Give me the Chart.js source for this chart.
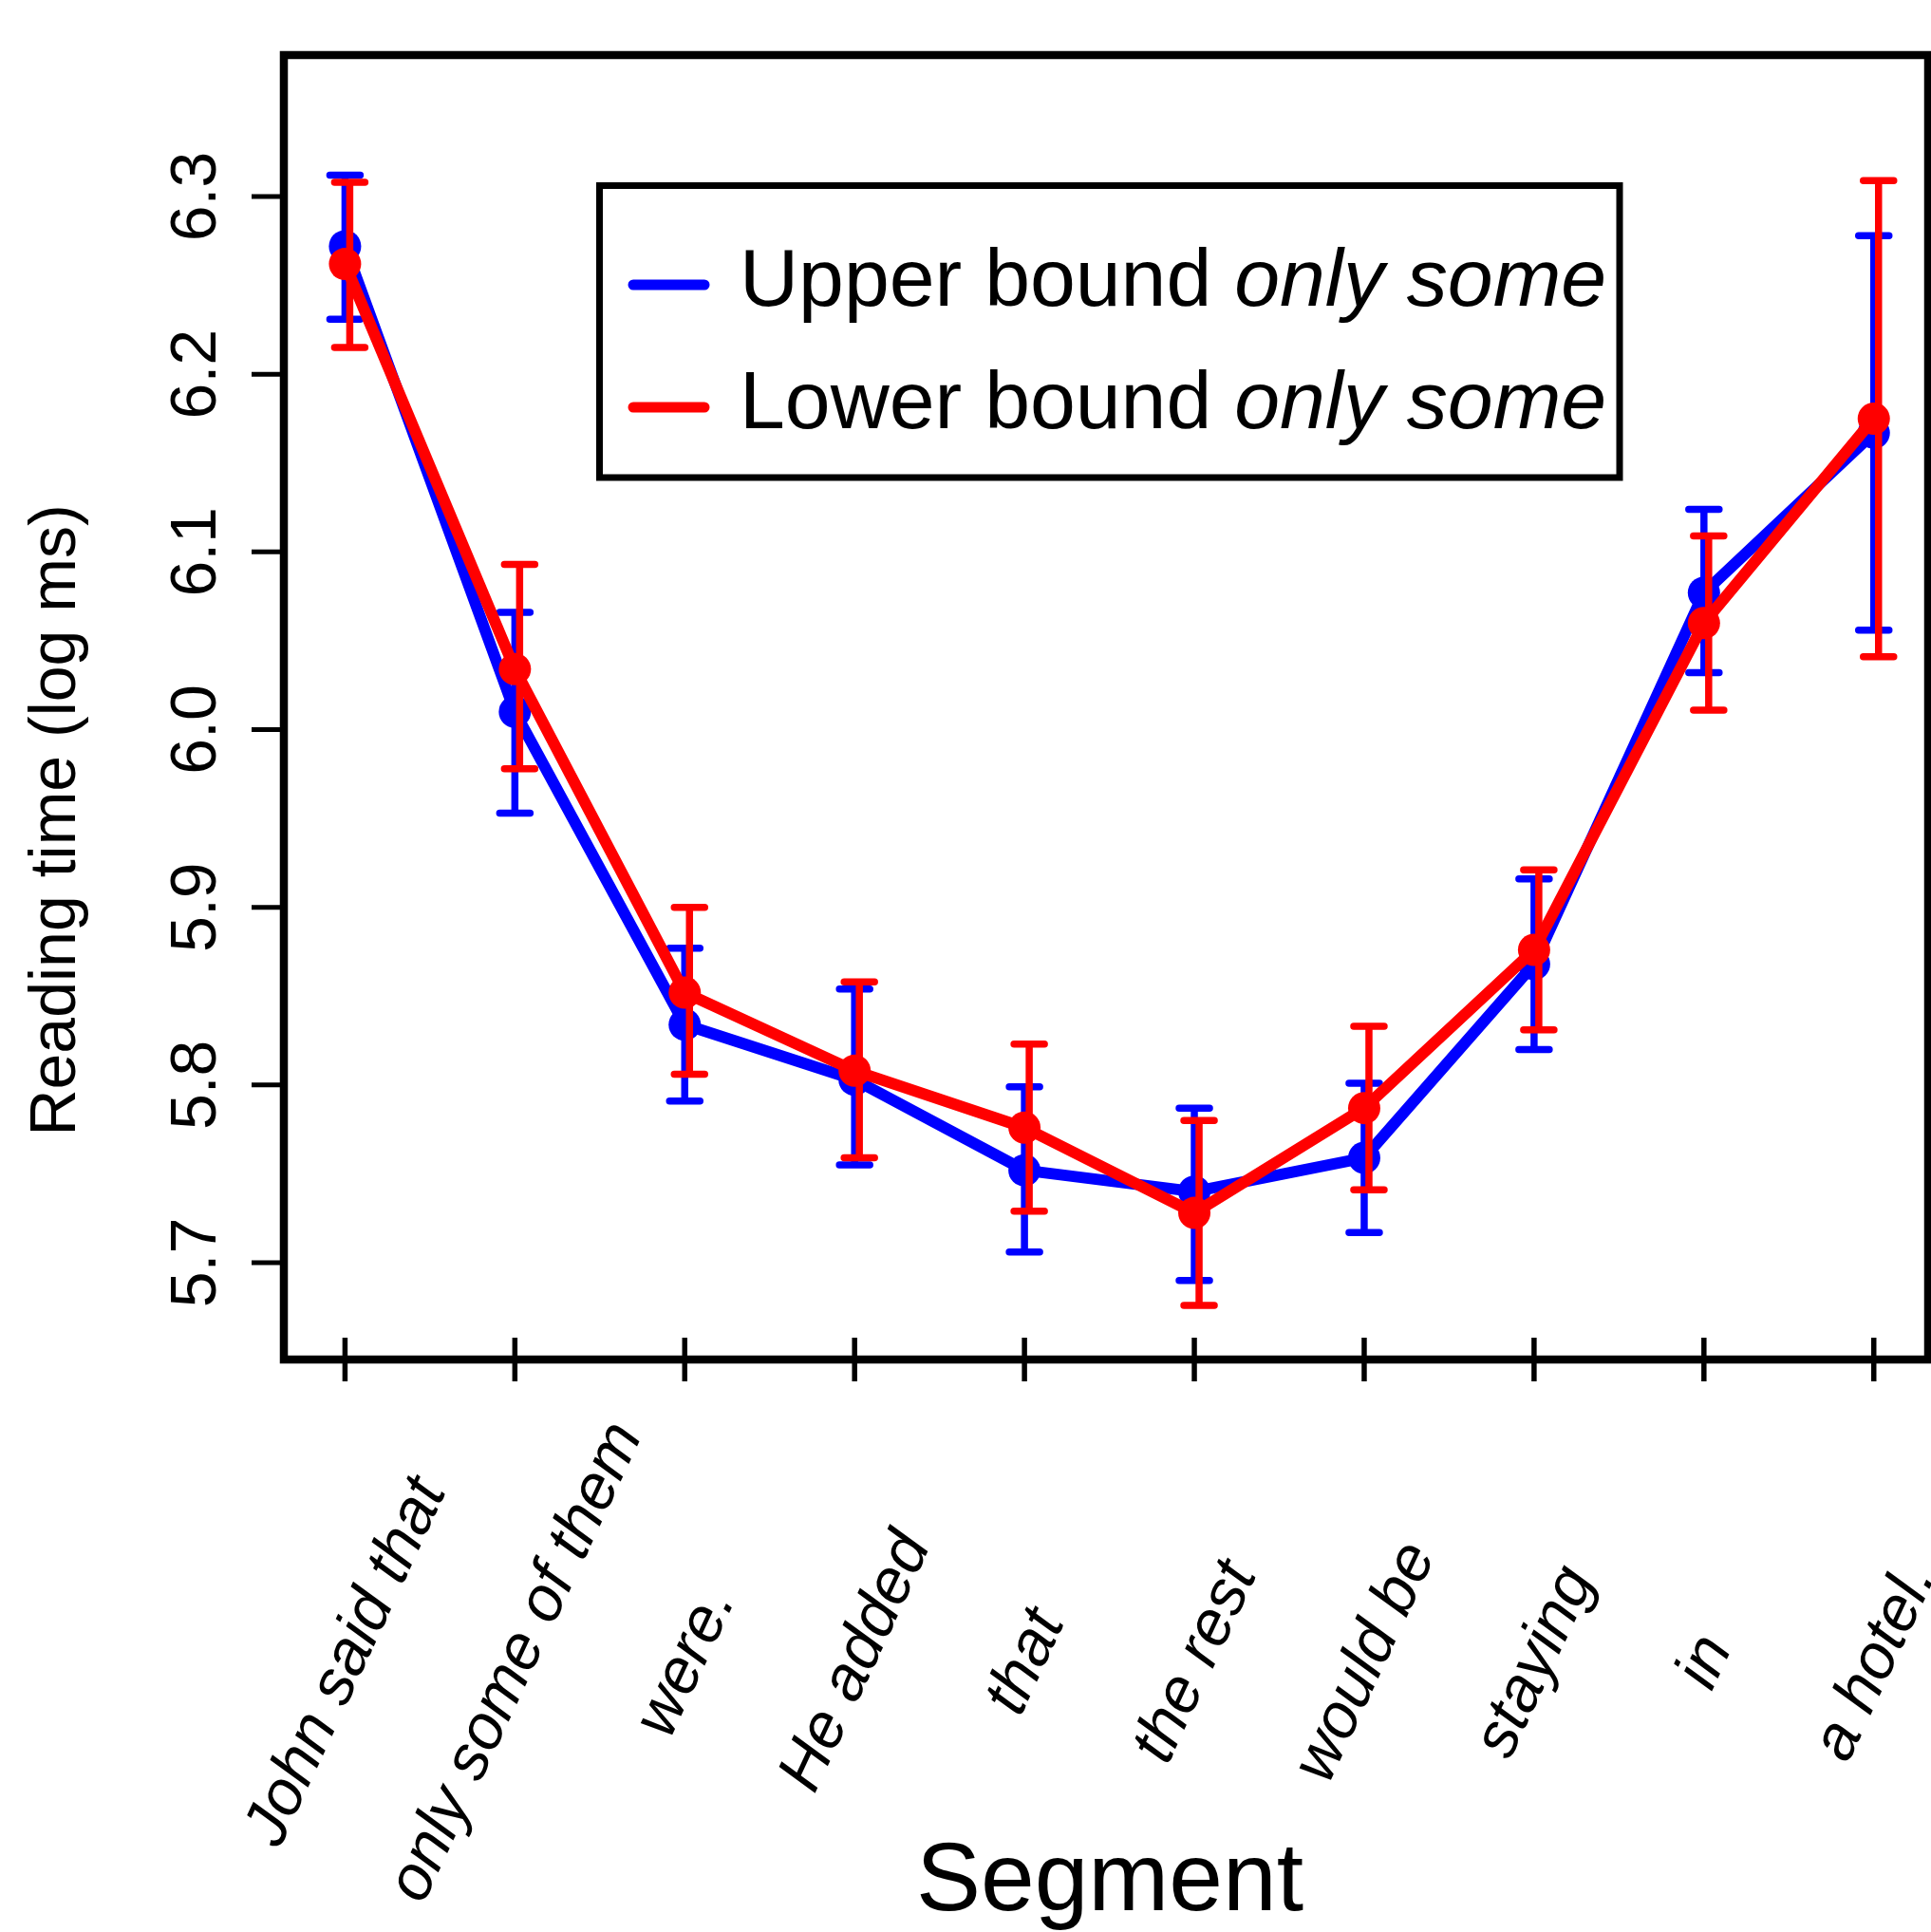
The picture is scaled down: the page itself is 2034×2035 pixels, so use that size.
<!DOCTYPE html>
<html>
<head>
<meta charset="utf-8">
<script src="https://cdn.jsdelivr.net/npm/chart.js@4.4.1/dist/chart.umd.min.js"></script>
<style>
html, body { margin: 0; padding: 0; background: #fff; overflow: hidden; }
canvas { display: block; }
</style>
</head>
<body>
<canvas id="lineChart" width="2034" height="2035"></canvas>
<script>
var segments = ['John said that', 'only some of them', 'were.', 'He added', 'that', 'the rest', 'would be', 'staying', 'in', 'a hotel.']
var yTicks = [5.7, 5.8, 5.9, 6.0, 6.1, 6.2, 6.3]

// Upper bound "only some" (blue)
var upperMean = [6.272, 6.010, 5.834, 5.803, 5.752, 5.740, 5.759, 5.868, 6.077, 6.167]
var upperHigh = [6.312, 6.066, 5.877, 5.854, 5.799, 5.787, 5.801, 5.916, 6.124, 6.278]
var upperLow = [6.231, 5.953, 5.791, 5.755, 5.706, 5.690, 5.717, 5.820, 6.032, 6.056]

// Lower bound "only some" (red)
var lowerMean = [6.262, 6.034, 5.852, 5.808, 5.776, 5.728, 5.787, 5.876, 6.060, 6.175]
var lowerHigh = [6.308, 6.093, 5.900, 5.858, 5.823, 5.780, 5.833, 5.921, 6.109, 6.309]
var lowerLow = [6.215, 5.978, 5.806, 5.759, 5.729, 5.676, 5.741, 5.831, 6.011, 6.041]

var FONT = '"Liberation Sans", Arial, Helvetica, sans-serif'

function toPoints(vals) {
    return vals.map(function (v, i) { return { x: i + 1, y: v } })
}

// error bars, drawn right after each dataset so red sits over blue
var errorBars = {
    id: 'errorBars',
    afterDatasetDraw: function (chart, args) {
        var ds = chart.data.datasets[args.index]
        var xs = chart.scales.x, ys = chart.scales.y
        var ctx = chart.ctx
        ctx.save()
        ctx.strokeStyle = ds.borderColor
        ctx.lineWidth = 7.5
        ctx.lineCap = 'round'
        for (var i = 0; i < ds.high.length; i++) {
            var px = xs.getPixelForValue(i + 1) + ds.barShift
            var top = ys.getPixelForValue(ds.high[i])
            var bot = ys.getPixelForValue(ds.low[i])
            ctx.beginPath()
            ctx.moveTo(px, top); ctx.lineTo(px, bot)
            ctx.moveTo(px - 16, top); ctx.lineTo(px + 16, top)
            ctx.moveTo(px - 16, bot); ctx.lineTo(px + 16, bot)
            ctx.stroke()
        }
        ctx.restore()
    }
}

// R style box, ticks, labels and legend
var axesFrame = {
    id: 'axesFrame',
    afterDraw: function (chart) {
        var ctx = chart.ctx, a = chart.chartArea
        var xs = chart.scales.x, ys = chart.scales.y
        ctx.save()
        ctx.strokeStyle = '#000'
        ctx.fillStyle = '#000'
        ctx.lineWidth = 8.5
        ctx.strokeRect(a.left, a.top, a.right - a.left, a.bottom - a.top)

        // y axis
        ctx.lineWidth = 5
        yTicks.forEach(function (v) {
            var py = ys.getPixelForValue(v)
            ctx.beginPath(); ctx.moveTo(a.left - 34, py); ctx.lineTo(a.left, py); ctx.stroke()
            ctx.save()
            ctx.translate(227, py)
            ctx.rotate(-Math.PI / 2)
            ctx.font = '68px ' + FONT
            ctx.textAlign = 'center'
            ctx.textBaseline = 'alphabetic'
            ctx.fillText(v.toFixed(1), 0, 0)
            ctx.restore()
        })

        // x axis
        ctx.lineWidth = 5.5
        segments.forEach(function (s, i) {
            var px = xs.getPixelForValue(i + 1)
            ctx.beginPath(); ctx.moveTo(px, a.bottom - 23); ctx.lineTo(px, a.bottom + 23); ctx.stroke()
            ctx.save()
            ctx.translate(px + 2, 1751)
            ctx.rotate(-65 * Math.PI / 180)
            ctx.font = 'italic 67px ' + FONT
            ctx.textAlign = 'center'
            ctx.textBaseline = 'middle'
            ctx.fillText(s, 0, 0)
            ctx.restore()
        })

        // axis titles
        ctx.save()
        ctx.translate(79, 864)
        ctx.rotate(-Math.PI / 2)
        ctx.font = '68px ' + FONT
        ctx.textAlign = 'center'
        ctx.fillText('Reading time (log ms)', 0, 0)
        ctx.restore()

        ctx.font = '102px ' + FONT
        ctx.textAlign = 'center'
        ctx.fillText('Segment', 1169, 2012)

        // legend
        ctx.lineWidth = 7
        ctx.strokeRect(631.5, 195.5, 1706 - 631.5, 503 - 195.5)
        var rows = [{ y: 300, color: '#0000ff', word: 'Upper bound ' }, { y: 429, color: '#ff0000', word: 'Lower bound ' }]
        rows.forEach(function (r) {
            ctx.strokeStyle = r.color
            ctx.lineWidth = 11
            ctx.lineCap = 'round'
            ctx.beginPath(); ctx.moveTo(667, r.y); ctx.lineTo(742, r.y); ctx.stroke()
            ctx.textAlign = 'left'
            ctx.textBaseline = 'alphabetic'
            ctx.font = '86px ' + FONT
            ctx.fillText(r.word, 779, r.y + 22)
            var w = ctx.measureText(r.word).width
            ctx.font = 'italic 86px ' + FONT
            ctx.fillText('only some', 779 + w, r.y + 22)
        })
        ctx.restore()
    }
}

var ctxMain = document.getElementById('lineChart').getContext('2d')

new Chart(ctxMain, {
    type: 'line',
    data: {
        datasets: [
            {
                label: 'Upper bound only some',
                data: toPoints(upperMean),
                high: upperHigh,
                low: upperLow,
                barShift: 0,
                order: 2,
                borderColor: '#0000ff',
                backgroundColor: '#0000ff',
                pointBackgroundColor: '#0000ff',
                borderWidth: 12,
                pointRadius: 17,
                pointBorderWidth: 0,
                borderJoinStyle: 'round',
                borderCapStyle: 'round',
                tension: 0
            },
            {
                label: 'Lower bound only some',
                data: toPoints(lowerMean),
                high: lowerHigh,
                low: lowerLow,
                barShift: 5,
                order: 1,
                borderColor: '#ff0000',
                backgroundColor: '#ff0000',
                pointBackgroundColor: '#ff0000',
                borderWidth: 12,
                pointRadius: 17,
                pointBorderWidth: 0,
                borderJoinStyle: 'round',
                borderCapStyle: 'round',
                tension: 0
            }
        ]
    },
    options: {
        responsive: false,
        animation: false,
        layout: { autoPadding: false, padding: { left: 299, top: 58, right: 3, bottom: 603 } },
        plugins: { legend: { display: false }, tooltip: { enabled: false } },
        scales: {
            x: { type: 'linear', min: 0.64, max: 10.32, display: false },
            y: { type: 'linear', min: 5.6455, max: 6.3796, display: false }
        }
    },
    plugins: [errorBars, axesFrame]
})
</script>
</body>
</html>
